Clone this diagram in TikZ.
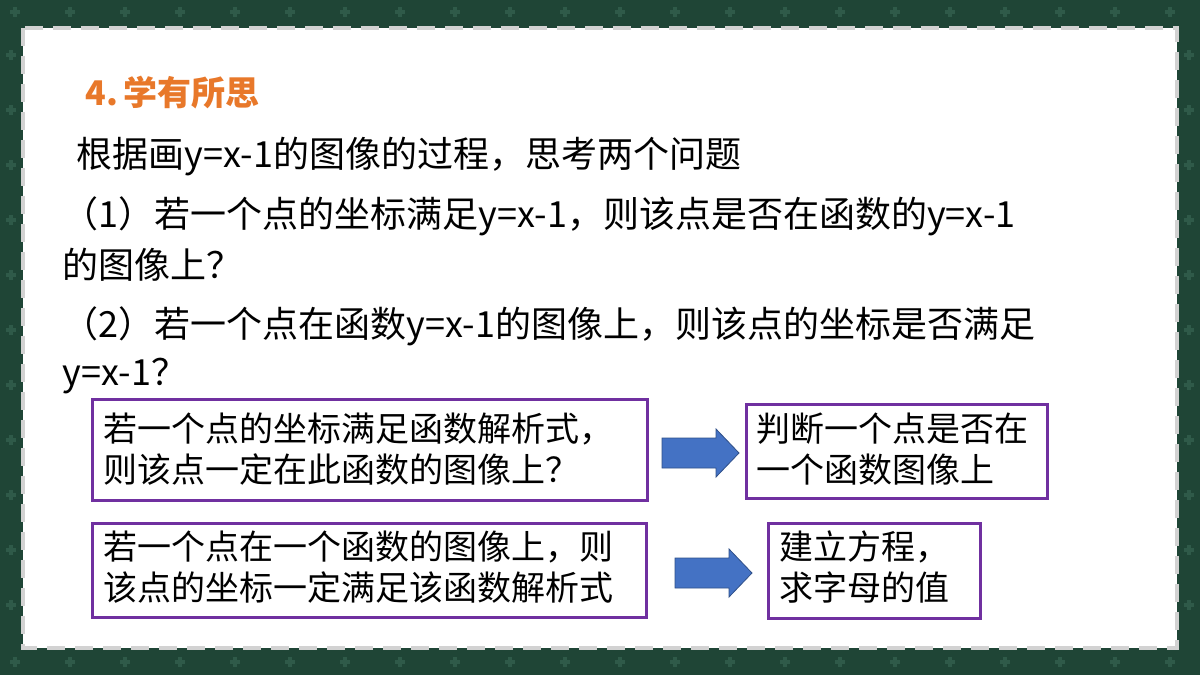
\documentclass[tikz,border=0pt]{standalone}
\usepackage{fontspec}
\setmainfont{Noto Sans CJK SC}
\definecolor{bggreen}{HTML}{1F4536}
\definecolor{crossg}{HTML}{2F5A49}
\definecolor{ttl}{HTML}{E8782A}
\definecolor{pur}{HTML}{7030A0}
\definecolor{arr}{HTML}{4472C4}
\tikzset{
  txt/.style={anchor=west,inner sep=0pt,font=\fontsize{18}{21}\selectfont},
  box/.style={draw=pur,line width=1.5pt,fill=white},
  btxt/.style={anchor=north west,inner sep=0pt,align=left,font=\fontsize{17}{20.5}\selectfont},
  barr/.style={fill=arr,draw=arr!70!black,line width=0.4pt}
}
\begin{document}
\begin{tikzpicture}[x=0.5pt,y=-0.5pt]
\useasboundingbox (0,0) rectangle (1200,675);
\clip (0,0) rectangle (1200,675);
\fill[bggreen] (0,0) rectangle (1200,675);
\foreach \i in {0,...,21}{
  \foreach \yy in {12,662}{\draw[crossg,line width=2pt] (\i*55+15-5,\yy) -- (\i*55+15+5,\yy) (\i*55+15,\yy-5) -- (\i*55+15,\yy+5);}
}
\foreach \j in {1,...,11}{
  \foreach \xx in {11,1189}{\draw[crossg,line width=2pt] (\xx-5,\j*55) -- (\xx+5,\j*55) (\xx,\j*55-5) -- (\xx,\j*55+5);}
}
\fill[white] (23,28) rectangle (1177,648);
\draw[gray!35,line width=2pt,dash pattern=on 9pt off 5pt] (23,28) rectangle (1177,648);
\node[anchor=west,inner sep=0pt,text=ttl,font=\fontsize{17}{20}\selectfont\bfseries] (title) at (85,93) {4.\,学有所思};
\node[txt] (l1) at (76,157) {根据画y=x-1的图像的过程，思考两个问题};
\node[txt] (l2) at (62,216) {（1）若一个点的坐标满足y=x-1，则该点是否在函数的y=x-1};
\node[txt] (l3) at (62,265) {的图像上？};
\node[txt] (l4) at (62,326) {（2）若一个点在函数y=x-1的图像上，则该点的坐标是否满足};
\node[txt] (l5) at (62,376) {y=x-1？};
\draw[box] (92,399) rectangle (647,500);
\node[btxt] (b1) at (103,412) {若一个点的坐标满足函数解析式，\\则该点一定在此函数的图像上？};
\draw[box] (746,404) rectangle (1047,498);
\node[btxt] (b2) at (756,412) {判断一个点是否在\\一个函数图像上};
\draw[box] (92,523) rectangle (646,617);
\node[btxt] (b3) at (103,530) {若一个点在一个函数的图像上，则\\该点的坐标一定满足该函数解析式};
\draw[box] (768,523) rectangle (980,618);
\node[btxt] (b4) at (779,530) {建立方程，\\求字母的值};
\draw[barr] (662,438) -- (716,438) -- (716,429) -- (739,453) -- (716,477) -- (716,468) -- (662,468) -- cycle;
\draw[barr] (675,558) -- (729,558) -- (729,549) -- (752,573) -- (729,597) -- (729,588) -- (675,588) -- cycle;
\end{tikzpicture}
\end{document}
